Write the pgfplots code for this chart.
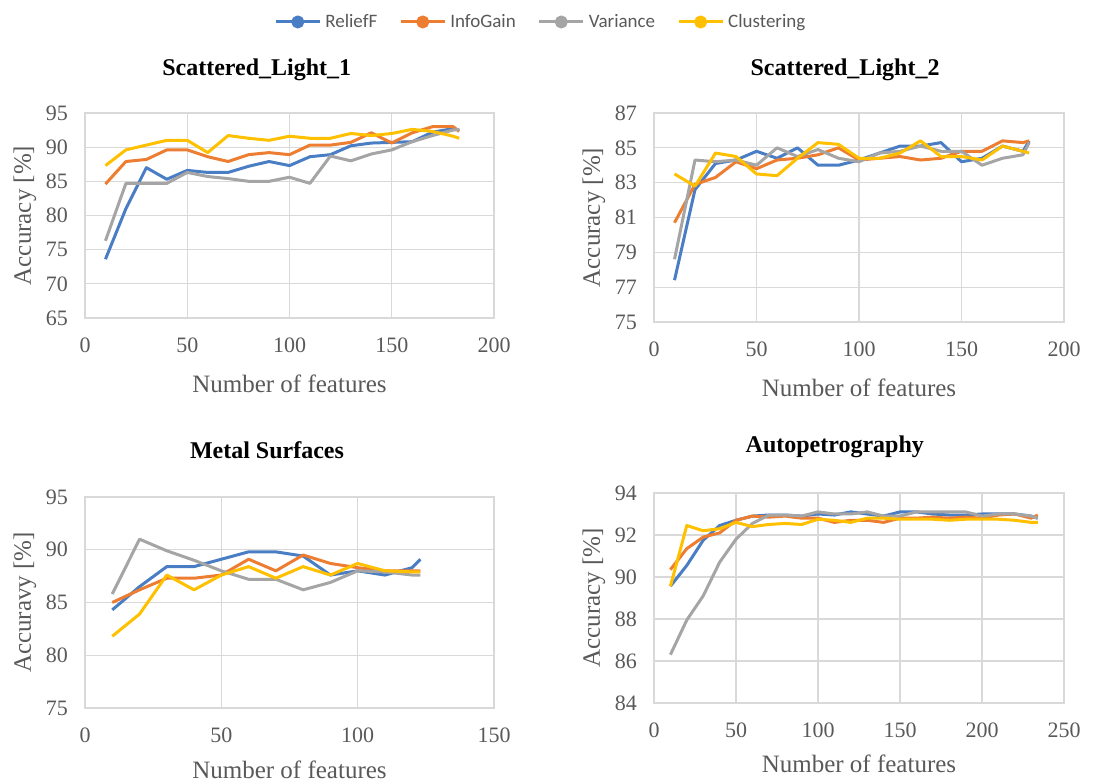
\documentclass[border=0pt]{standalone}
\usepackage{pgfplots}
\pgfplotsset{compat=1.18}
\usepackage{pgfplotstable}
\usepackage{fontspec}
\setmainfont{Liberation Serif}
\newfontfamily\legendfont{Carlito}
\definecolor{cBlue}{HTML}{4A7EC4}
\definecolor{cOrange}{HTML}{ED7D31}
\definecolor{cGray}{HTML}{A5A5A5}
\definecolor{cYellow}{HTML}{FFC000}
\definecolor{gridc}{HTML}{D9D9D9}
\definecolor{txt}{HTML}{595959}

\pgfplotstableread{
x b o g y
10 73.6 84.6 76.3 87.3
20 81.0 87.9 84.7 89.6
30 87.0 88.2 84.7 90.3
40 85.3 89.6 84.7 91.0
50 86.6 89.6 86.3 91.0
60 86.3 88.6 85.7 89.2
70 86.3 87.9 85.4 91.7
80 87.2 88.9 85.0 91.3
90 87.9 89.2 85.0 91.0
100 87.3 88.9 85.6 91.6
110 88.6 90.3 84.7 91.3
120 88.9 90.3 88.7 91.3
130 90.2 90.7 88.0 92.0
140 90.6 92.1 89.0 91.7
150 90.7 90.6 89.6 92.0
160 90.8 92.1 90.8 92.6
170 92.2 93.0 91.7 92.3
180 92.7 93.0 92.5 91.6
183 92.5 92.3 92.6 91.3
}\tabA
\pgfplotstableread{
x b o g y
10 77.4 80.7 78.6 83.5
20 82.6 82.9 84.3 82.8
30 84.1 83.3 84.2 84.7
40 84.3 84.2 84.3 84.5
50 84.8 83.8 84.0 83.5
60 84.4 84.3 85.0 83.4
70 85.0 84.4 84.5 84.4
80 84.0 84.6 84.9 85.3
90 84.0 85.0 84.4 85.2
100 84.3 84.3 84.2 84.4
110 84.7 84.4 84.7 84.4
120 85.1 84.5 84.8 84.7
130 85.1 84.3 85.1 85.4
140 85.3 84.4 84.8 84.5
150 84.2 84.8 84.8 84.5
160 84.4 84.8 84.0 84.3
170 85.1 85.4 84.4 85.1
180 84.8 85.3 84.6 84.8
183 85.4 85.4 85.3 84.7
}\tabB
\pgfplotstableread{
x b o g y
10 84.3 85.0 85.8 81.8
20 86.5 86.2 91.0 83.9
30 88.4 87.3 89.9 87.6
40 88.4 87.3 89.0 86.2
50 89.1 87.6 88.0 87.6
60 89.8 89.1 87.2 88.4
70 89.8 88.0 87.2 87.3
80 89.4 89.5 86.2 88.4
90 87.6 88.7 86.9 87.6
100 88.0 88.3 88.0 88.7
110 87.6 88.0 87.9 88.0
120 88.3 88.0 87.6 87.9
123 89.1 88.0 87.6 87.9
}\tabC
\pgfplotstableread{
x b o g y
10 89.56 90.35 86.3 89.56
20 90.55 91.35 87.95 92.45
30 91.75 91.9 89.1 92.2
40 92.45 92.1 90.7 92.3
50 92.7 92.7 91.8 92.6
60 92.9 92.9 92.55 92.4
70 92.95 92.85 92.95 92.5
80 92.95 92.9 92.95 92.55
90 92.9 92.8 92.9 92.5
100 93.0 92.8 93.1 92.75
110 92.95 92.6 93.0 92.7
120 93.1 92.7 93.0 92.6
130 93.0 92.7 93.1 92.8
140 92.9 92.6 92.9 92.8
150 93.1 92.8 92.9 92.75
160 93.1 92.8 93.1 92.75
170 93.0 92.85 93.1 92.75
180 92.95 92.8 93.1 92.7
190 92.95 92.85 93.1 92.75
200 93.0 92.8 92.9 92.75
210 93.0 92.95 93.0 92.75
220 93.0 93.0 93.0 92.7
230 92.9 92.8 92.9 92.6
234 92.8 92.95 92.8 92.6
}\tabD

\pgfplotsset{
 panel/.style={
  scale only axis, anchor=south west,
  axis line style={gridc, line width=0.6pt},
  grid=major, major grid style={gridc, line width=0.6pt},
  major tick length=0pt, tick style={draw=none},
  tick label style={font=\fontsize{11}{13}\selectfont, text=txt},
  /pgf/number format/assume math mode=true,
  xticklabel style={yshift=-6.5pt},
  yticklabel style={xshift=-5pt},
  xlabshift/.initial=-33pt,
  every axis x label/.style={at={(rel axis cs:0.5,0)}, anchor=center, yshift=\pgfkeysvalueof{/pgfplots/xlabshift},
     font=\fontsize{12.5}{15}\selectfont, text=txt},
  every axis y label/.style={at={([xshift=-30pt]rel axis cs:0,0.5)}, anchor=center, rotate=90,
     font=\fontsize{12.5}{15}\selectfont, text=txt},
  every axis title shift=0pt,
  title style={font=\bfseries\fontsize{12}{14}\selectfont, anchor=center},
  xlabel={Number of features},
  ylabel={Accuracy [\%]},
  every axis plot/.append style={line width=1.5pt, line join=round},
 },
}

\begin{document}
\begin{tikzpicture}
\path[use as bounding box] (0,0) rectangle (549pt,389.5pt);

% Panel 1
\begin{axis}[panel, at={(42.5pt,230.5pt)}, width=204.5pt, height=102.5pt,
  xmin=0, xmax=200, ymin=65, ymax=95, xtick={0,50,...,200}, ytick={65,70,...,95},
  title={Scattered\_Light\_1}, title style={at={(rel axis cs:0.42,1)}, yshift=21.5pt},
  legend columns=4,
  legend image code/.code={\draw[mark repeat=2,mark phase=2,#1] plot coordinates {(0pt,0pt) (11pt,0pt) (22pt,0pt)};},
  legend style={at={(1.117,1.444)}, anchor=center, draw=none, fill=none,
    font=\legendfont\fontsize{9.5}{11}\selectfont, text=txt,
    /tikz/every even column/.append style={column sep=9pt}},
  ]
\addlegendimage{cBlue, line width=1.5pt, mark=*, mark size=2.5pt, mark options={solid}}
\addlegendentry{ReliefF}
\addlegendimage{cOrange, line width=1.5pt, mark=*, mark size=2.5pt, mark options={solid}}
\addlegendentry{InfoGain}
\addlegendimage{cGray, line width=1.5pt, mark=*, mark size=2.5pt, mark options={solid}}
\addlegendentry{Variance}
\addlegendimage{cYellow, line width=1.5pt, mark=*, mark size=2.5pt, mark options={solid}}
\addlegendentry{Clustering}
\addplot[cBlue, forget plot] table[x=x,y=b] {\tabA};
\addplot[cOrange, forget plot] table[x=x,y=o] {\tabA};
\addplot[cGray, forget plot] table[x=x,y=g] {\tabA};
\addplot[cYellow, forget plot] table[x=x,y=y] {\tabA};
\end{axis}

% Panel 2
\begin{axis}[panel, at={(327pt,228.5pt)}, width=205pt, height=104.5pt,
  xmin=0, xmax=200, ymin=75, ymax=87, xtick={0,50,...,200}, ytick={75,77,...,87},
  title={Scattered\_Light\_2}, title style={at={(rel axis cs:0.466,1)}, yshift=21.5pt},
  ]
\addplot[cBlue] table[x=x,y=b] {\tabB};
\addplot[cOrange] table[x=x,y=o] {\tabB};
\addplot[cGray] table[x=x,y=g] {\tabB};
\addplot[cYellow] table[x=x,y=y] {\tabB};
\end{axis}

% Panel 3
\begin{axis}[panel, at={(42.5pt,35.5pt)}, width=204.5pt, height=105.5pt,
  xmin=0, xmax=150, ymin=75, ymax=95, xtick={0,50,100,150}, ytick={75,80,...,95},
  ylabel={Accuravy [\%]}, xlabshift=-31pt,
  title={Metal Surfaces}, title style={at={(rel axis cs:0.445,1)}, yshift=23.5pt},
  ]
\addplot[cBlue] table[x=x,y=b] {\tabC};
\addplot[cOrange] table[x=x,y=o] {\tabC};
\addplot[cGray] table[x=x,y=g] {\tabC};
\addplot[cYellow] table[x=x,y=y] {\tabC};
\end{axis}

% Panel 4
\begin{axis}[panel, at={(327pt,38pt)}, width=205pt, height=105pt,
  xmin=0, xmax=250, ymin=84, ymax=94, xtick={0,50,...,250}, ytick={84,86,...,94},
  xlabshift=-30.5pt,
  title={Autopetrography}, title style={at={(rel axis cs:0.441,1)}, yshift=23pt},
  ]
\addplot[cBlue] table[x=x,y=b] {\tabD};
\addplot[cOrange] table[x=x,y=o] {\tabD};
\addplot[cGray] table[x=x,y=g] {\tabD};
\addplot[cYellow] table[x=x,y=y] {\tabD};
\end{axis}
\end{tikzpicture}
\end{document}
